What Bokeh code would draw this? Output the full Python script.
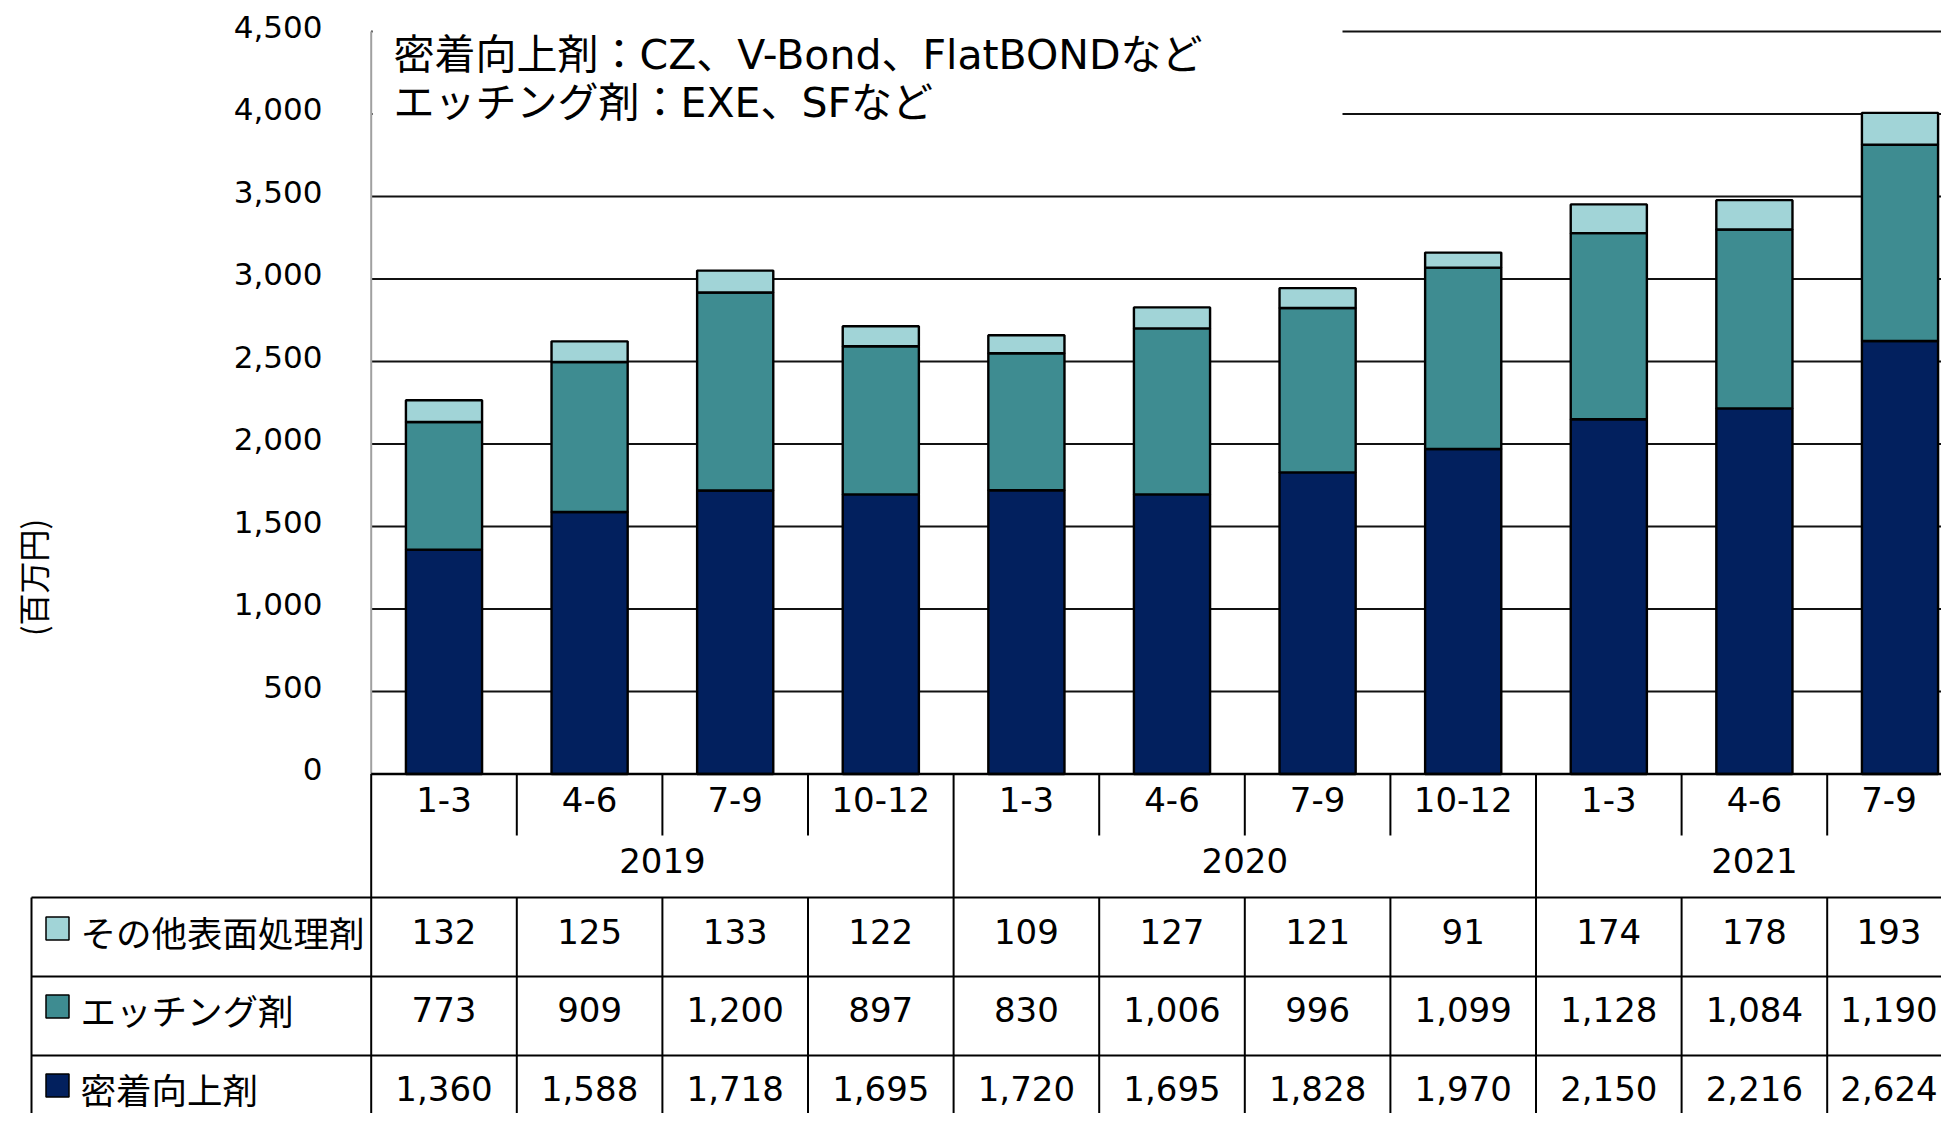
from math import pi
from bokeh.plotting import figure
from bokeh.models import Range1d, ColumnDataSource
from bokeh.core.properties import value
from bokeh.embed import file_html
from bokeh.resources import INLINE

# ---------------- data ----------------
quarters = ["1-3", "4-6", "7-9", "10-12", "1-3", "4-6", "7-9", "10-12", "1-3", "4-6", "7-9"]
years = ["2019", "2020", "2021"]
year_quarter_counts = [4, 4, 3]
series_names = ["その他表面処理剤", "エッチング剤", "密着向上剤"]
other = [132, 125, 133, 122, 109, 127, 121, 91, 174, 178, 193]
etching = [773, 909, 1200, 897, 830, 1006, 996, 1099, 1128, 1084, 1190]
adhesion = [1360, 1588, 1718, 1695, 1720, 1695, 1828, 1970, 2150, 2216, 2624]
y_ticks = [0, 500, 1000, 1500, 2000, 2500, 3000, 3500, 4000, 4500]
y_label = "(百万円)"
note_lines = ["密着向上剤：CZ、V-Bond、FlatBONDなど", "エッチング剤：EXE、SFなど"]

# ---------------- style ----------------
C_NAVY = "#02205E"
C_TEAL = "#3E8C91"
C_LIGHT = "#A1D4D7"
series_colors = [C_LIGHT, C_TEAL, C_NAVY]
LATIN = "DejaVu Sans"
CJK = "Noto Sans CJK JP"
MIXED = "DejaVu Sans, Noto Sans CJK JP"

# ---------------- layout mapping (picture px -> data) ----------------
W, H = 1941, 1113
X0, COLW = 370.7, 145.6          # left of first column, column width (px)
Y0, PXV = 773.5, 82.5 / 500.0    # zero line (px), px per value unit


def cx(X):
    return (X - X0) / COLW


def vy(Y):
    return (Y0 - Y) / PXV


p = figure(width=W, height=H,
           x_range=Range1d(cx(0), cx(W)),
           y_range=Range1d(vy(H), vy(0)),
           min_border=0, toolbar_location=None, output_backend="svg",
           x_axis_location=None, y_axis_location=None)
p.grid.visible = False
p.outline_line_color = None
p.background_fill_color = "white"
p.border_fill_color = "white"

n = len(quarters)
x_end = cx(W) + 1
xs = [i + 0.5 for i in range(n)]
# keep the text of the partly visible last column inside the picture
x_offs = [0] * (n - 1) + [-11]

# gridlines
g = y_ticks[1:]
p.segment(x0=[0] * len(g), y0=g, x1=[x_end] * len(g), y1=g,
          line_color="#111111", line_width=1.8)

# white box behind the note
p.quad(left=[0.01], right=[cx(1342)], bottom=[3720], top=[vy(-20)],
       fill_color="white", line_color=None)

# stacked bars
src = ColumnDataSource(dict(x=xs, adhesion=adhesion, etching=etching, other=other))
p.vbar_stack(["adhesion", "etching", "other"], x="x", width=0.523, source=src,
             fill_color=[C_NAVY, C_TEAL, C_LIGHT], line_color="black", line_width=2.4)

# value axis line and zero line
p.segment(x0=[0], y0=[0], x1=[0], y1=[y_ticks[-1]], line_color="#a0a0a0", line_width=2)
p.segment(x0=[0], y0=[0], x1=[x_end], y1=[0], line_color="black", line_width=2.4)

# y tick labels
p.text(x=[cx(322)] * len(y_ticks), y=y_ticks, text=[f"{t:,}" for t in y_ticks],
       text_font=value(LATIN), text_font_size="31px", text_align="right",
       text_baseline="middle", text_color="black", y_offset=-5)

# y label
p.text(x=[cx(31.7)], y=[vy(577)], text=[y_label], angle=pi / 2,
       text_font=value(CJK), text_font_size="32px", text_align="center",
       text_baseline="middle", text_color="black")

# note
p.text(x=[cx(393)] * 2, y=[vy(54), vy(102)], text=note_lines,
       text_font=value(MIXED), text_font_size="41px", text_align="left",
       text_baseline="middle", text_color="black")

# ---------------- table ----------------
Y_CAT_BOT, Y_YEAR_BOT = 835, 897
row_tops = [897, 976, 1055]
Y_BOTTOM = 1140
X_TABLE_LEFT = 31

year_starts = [sum(year_quarter_counts[:k]) for k in range(len(years))]
x0s, y0s, x1s, y1s = [], [], [], []
for b in range(n):
    if b in year_starts:
        x0s.append(b); y0s.append(vy(Y0)); x1s.append(b); y1s.append(vy(Y_BOTTOM))
    else:
        x0s.append(b); y0s.append(vy(Y0)); x1s.append(b); y1s.append(vy(Y_CAT_BOT))
        x0s.append(b); y0s.append(vy(Y_YEAR_BOT)); x1s.append(b); y1s.append(vy(Y_BOTTOM))
x0s.append(cx(X_TABLE_LEFT)); y0s.append(vy(Y_YEAR_BOT))
x1s.append(cx(X_TABLE_LEFT)); y1s.append(vy(Y_BOTTOM))
for yt in row_tops:
    x0s.append(cx(X_TABLE_LEFT)); y0s.append(vy(yt)); x1s.append(x_end); y1s.append(vy(yt))
p.segment(x0=x0s, y0=y0s, x1=x1s, y1=y1s, line_color="black", line_width=2)

# category labels
cat_src = ColumnDataSource(dict(x=xs, y=[vy(799)] * n, t=quarters, o=x_offs))
p.text(x="x", y="y", text="t", x_offset="o", source=cat_src, text_font=value(LATIN),
       text_font_size="34px", text_align="center", text_baseline="middle", text_color="black")
# year labels
year_centers = [s + c / 2 for s, c in zip(year_starts, year_quarter_counts)]
p.text(x=year_centers, y=[vy(860)] * len(years), text=years, text_font=value(LATIN),
       text_font_size="34px", text_align="center", text_baseline="middle", text_color="black")

# rows
row_text_y = [931, 1009, 1088]
row_series = [other, etching, adhesion]
for ry, vals in zip(row_text_y, row_series):
    rs = ColumnDataSource(dict(x=xs, y=[vy(ry)] * n, t=[f"{v:,}" for v in vals], o=x_offs))
    p.text(x="x", y="y", text="t", x_offset="o", source=rs, text_font=value(LATIN),
           text_font_size="34px", text_align="center", text_baseline="middle",
           text_color="black")

# legend column
p.scatter(x=[cx(57)] * 3, y=[vy(ry - 3) for ry in row_text_y], marker="square", size=23,
          fill_color=series_colors, line_color="black", line_width=1.5)
p.text(x=[cx(80)] * 3, y=[vy(ry) for ry in row_text_y], text=series_names,
       text_font=value(CJK), text_font_size="35.5px", text_align="left",
       text_baseline="middle", text_color="black")

open("out.html", "w").write(file_html(p, INLINE))
